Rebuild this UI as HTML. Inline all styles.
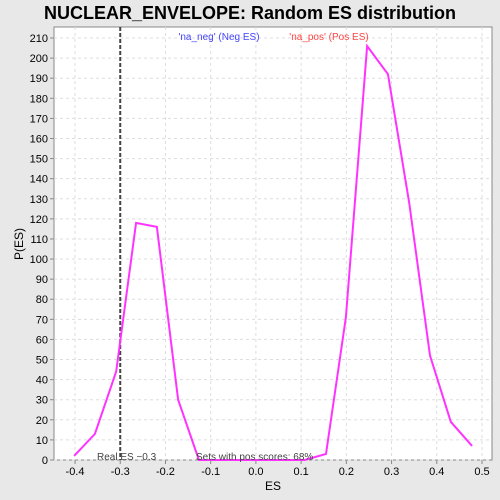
<!DOCTYPE html>
<html><head><meta charset="utf-8"><style>
html,body{margin:0;padding:0;overflow:hidden;background:#e8e8e8;font-family:"Liberation Sans",sans-serif;}
svg{display:block;}
svg text{font-family:"Liberation Sans",sans-serif;}
</style></head><body>
<svg id="c" width="500" height="500">
<rect x="0" y="0" width="500" height="500" fill="#e8e8e8"/>
<text x="250" y="19" text-anchor="middle" font-size="18" font-weight="bold" fill="#000">NUCLEAR_ENVELOPE: Random ES distribution</text>
<rect x="54" y="27" width="438" height="433" fill="#fff" stroke="#888"/>
<g id="grid"></g><g id="axes"></g><g id="series"></g>
<text x="219" y="40" text-anchor="middle" font-size="10" fill="#4444ff">'na_neg' (Neg ES)</text>
<text x="329" y="40" text-anchor="middle" font-size="10" fill="#ff4444">'na_pos' (Pos ES)</text>
<text x="273" y="490" text-anchor="middle" font-size="12">ES</text>
<text x="23" y="244" text-anchor="middle" font-size="12" transform="rotate(-90 23 244)">P(ES)</text>
<text x="97" y="460" font-size="10" fill="#444">Real ES −0.3</text>
<text x="196" y="460" font-size="10" fill="#444">Sets with pos scores: 68%</text>
</svg>
<script>
const esVals=[-0.402,-0.356,-0.309,-0.265,-0.219,-0.172,-0.126,-0.08,-0.033,0.013,0.06,0.108,0.155,0.199,0.246,0.292,0.339,0.385,0.431,0.478];
const probVals=[2,13,44,118,116,30,0,0,0,0,0,0,3,71,206,192,128,52,19,7];
const xTicks=[-0.4,-0.3,-0.2,-0.1,0.0,0.1,0.2,0.3,0.4,0.5];
const yTicks=[0,10,20,30,40,50,60,70,80,90,100,110,120,130,140,150,160,170,180,190,200,210];
const realES=-0.3;
const NS="http://www.w3.org/2000/svg";
const X=v=>255.9+v*452.2, Y=v=>460-v*2.0095;
function mk(t,a,p){const e=document.createElementNS(NS,t);for(const k in a)e.setAttribute(k,a[k]);p.appendChild(e);return e;}
const g=document.getElementById('grid'),ax=document.getElementById('axes'),s=document.getElementById('series');
xTicks.forEach(v=>{const x=X(v);
const l=mk('line',{x1:x,x2:x,y1:27,y2:460,stroke:'#ddd','stroke-dasharray':'3,3'},g);

mk('line',{x1:x,x2:x,y1:460,y2:464,stroke:'#888'},ax);
const t=mk('text',{x:x,y:475,'text-anchor':'middle','font-size':11},ax);t.textContent=v.toFixed(1);
});
yTicks.forEach(v=>{const y=Y(v);
const l=mk('line',{x1:54,x2:492,y1:y,y2:y,stroke:'#ddd','stroke-dasharray':'3,3'},g);

mk('line',{x1:50,x2:54,y1:y,y2:y,stroke:'#888'},ax);
const t=mk('text',{x:48,y:y+4,'text-anchor':'end','font-size':11},ax);t.textContent=v;
});
const rl=mk('line',{x1:X(realES),x2:X(realES),y1:27,y2:460,stroke:'#444','stroke-width':2,'stroke-dasharray':'4,2'},s);

const pl=mk('polyline',{points:esVals.map((v,i)=>X(v)+','+Y(probVals[i])).join(' '),fill:'none',stroke:'#ff33ff','stroke-width':2},s);

</script>
</body></html>
